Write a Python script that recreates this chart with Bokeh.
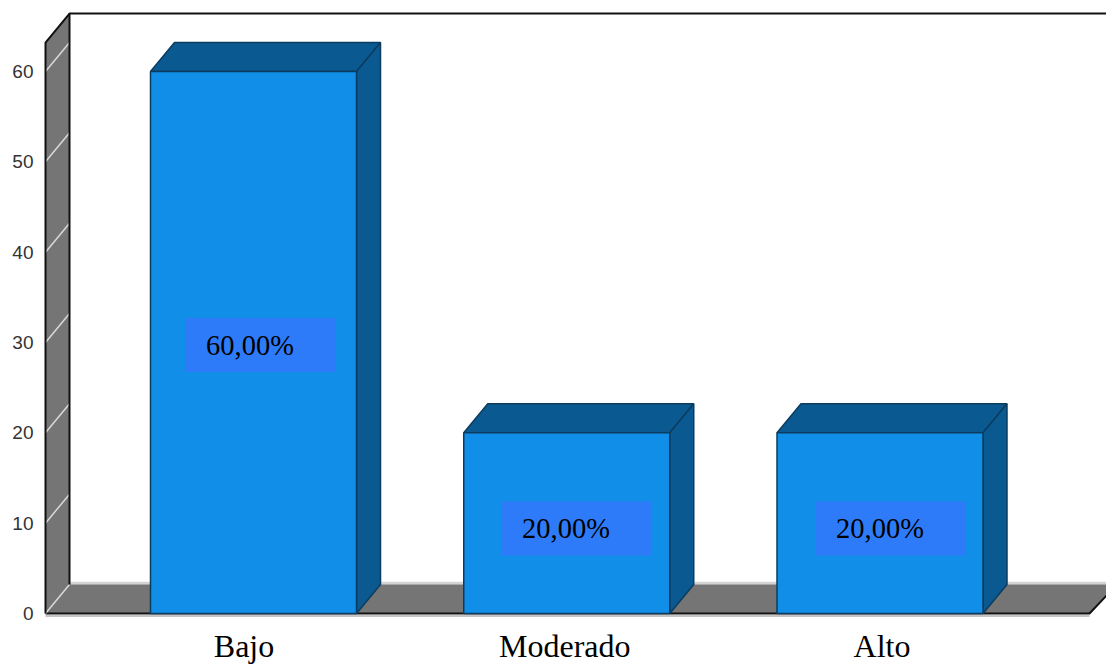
from bokeh.plotting import figure
from bokeh.models import Range1d, FixedTicker
from bokeh.embed import file_html
from bokeh.resources import INLINE
from bokeh.core.properties import value

categories = ["Bajo", "Moderado", "Alto"]
values = [60, 20, 20]
labels = ["60,00%", "20,00%", "20,00%"]
y_ticks = [0, 10, 20, 30, 40, 50, 60]

FRONT, DARK, EDGE = "#118ee8", "#0a5a91", "#0b3c60"
WALL, BOX = "#757575", "#2e7bfa"
PX_X, PX_Y = 313.25, 9.033
DX, DY = 24 / PX_X, 29 / PX_Y
HALF = 103 / PX_X
WALL_X, FLOOR_END, WALL_TOP = -208 / PX_X, 836 / PX_X, 63.2

p = figure(width=1106, height=664, output_backend="svg", toolbar_location=None,
           x_range=Range1d(-213 / PX_X, 853 / PX_X),
           y_range=Range1d(-51 / PX_Y, 613 / PX_Y),
           min_border_left=40, min_border_right=0, min_border_top=0, min_border_bottom=0)
p.outline_line_color = None
p.grid.visible = False
p.xaxis.visible = False

# y axis
p.yaxis.ticker = FixedTicker(ticks=y_ticks)
p.yaxis.axis_line_color = None
p.yaxis.major_tick_line_color = None
p.yaxis.minor_tick_line_color = None
p.yaxis.major_tick_out = 0
p.yaxis.major_tick_in = 0
p.yaxis.major_label_standoff = 7
p.yaxis.major_label_text_font = "Liberation Sans"
p.yaxis.major_label_text_font_size = "19px"
p.yaxis.major_label_text_color = "#333333"

# category labels
label_shift = [-9.5 / PX_X, -2 / PX_X, 2 / PX_X]
cat_x = [i + s for i, s in enumerate(label_shift)]
cat_y = [-32.5 / PX_Y] * 3
p.text(cat_x, cat_y, text=categories, text_align="center", text_baseline="middle",
       text_font=value("Liberation Serif"), text_font_size="32px", text_color="#000000")

# floor shadow and back highlight
p.line([WALL_X, FLOOR_END], [-0.28, -0.28], line_color="#c4c4c4", line_width=2)
p.line([WALL_X + DX, FLOOR_END + 2 * DX], [DY + 0.14, DY + 0.14], line_color="#d4d4d4", line_width=3)

# floor
p.patch([WALL_X, WALL_X + DX, FLOOR_END + 1.15 * DX, FLOOR_END],
        [0, DY, DY, 0], fill_color=WALL, line_color=None)
p.line([WALL_X, FLOOR_END, FLOOR_END + 1.15 * DX], [0, 0, DY],
       line_color="#111111", line_width=2)

# side wall
p.patch([WALL_X, WALL_X + DX, WALL_X + DX, WALL_X],
        [0, DY, WALL_TOP + DY, WALL_TOP], fill_color=WALL, line_color=None)
for t in y_ticks:
    p.line([WALL_X, WALL_X + DX], [t, t + DY], line_color="#d9d9d9", line_width=1.5)
p.line([WALL_X, WALL_X, WALL_X + DX, 5], [0, WALL_TOP, WALL_TOP + DY, WALL_TOP + DY],
       line_color="#111111", line_width=2)
p.line([WALL_X + DX, WALL_X + DX], [DY, WALL_TOP + DY], line_color="#111111", line_width=2)

# 3D bars
for i, v in enumerate(values):
    l, r = i - HALF, i + HALF
    p.patch([l, l + DX, r + DX, r], [v, v + DY, v + DY, v],
            fill_color=DARK, line_color=EDGE, line_width=1.5)
    p.patch([r, r + DX, r + DX, r], [0, DY, v + DY, v],
            fill_color=DARK, line_color=EDGE, line_width=1.5)
    p.quad(left=[l], right=[r], bottom=[0], top=[v],
           fill_color=FRONT, line_color=EDGE, line_width=1.5)

# data labels
box_dx = [7 / PX_X, 9.75 / PX_X, 10.5 / PX_X]
box_drop = [0.28, 0.59, 0.59]
box_x = [i + d for i, d in enumerate(box_dx)]
box_y = [v / 2 - d for v, d in zip(values, box_drop)]
p.rect(box_x, box_y, width=150, height=54, width_units="screen", height_units="screen",
       fill_color=BOX, line_color=None)
p.text(box_x, box_y, text=labels, text_font=value("Liberation Serif"), text_font_size="28.5px",
       text_color="#000000", text_align="center", text_baseline="middle", x_offset=-10.5, y_offset=0)

open("out.html", "w").write(file_html(p, INLINE))
